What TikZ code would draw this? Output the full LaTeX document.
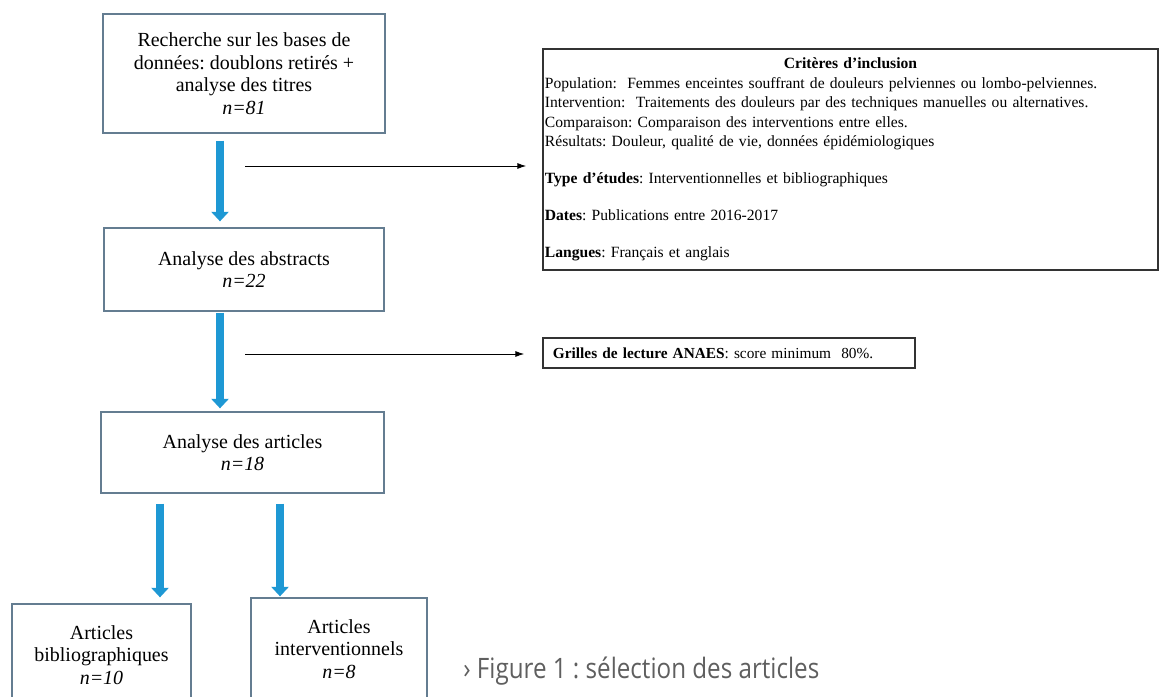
\documentclass[tikz,border=0pt]{standalone}
\usepackage{fontspec}
\setmainfont{Liberation Serif}
\newfontfamily\captionfont[FakeStretch=0.86]{Open Sans}
\usetikzlibrary{arrows.meta,positioning}
\definecolor{flowblue}{RGB}{30,152,212}
\definecolor{stageedge}{RGB}{100,125,145}
\definecolor{captiongray}{RGB}{95,95,95}

\begin{document}
\frenchspacing
\begin{tikzpicture}[x=0.025cm,y=0.025cm,
  stage/.style={draw=stageedge,line width=0.9pt,align=center,font=\fontsize{14.2}{16.1}\selectfont},
  filter/.style={draw=black!80,line width=1.1pt,align=left,inner xsep=0.05cm,font=\fontsize{11.1}{13.9}\selectfont},
  flow/.style={draw=flowblue,line width=0.2cm,-{Triangle[width=0.43cm,length=0.24cm]}},
  exclude/.style={draw=black,line width=0.6pt,-{Latex[length=0.22cm,width=0.15cm]}}]
\tikzstyle{every node}+=[inner sep=0pt]
\useasboundingbox (0,0) rectangle (1160,-697);
\node [stage,minimum width=7.05cm,minimum height=2.975cm] (search) at (244,-73.5) {Recherche sur les bases de\\données: doublons retirés +\\analyse des titres\\\textit{n=81}};
\node [stage,minimum width=7cm,minimum height=2.075cm] (abstracts) at (244,-269.5) {Analyse des abstracts\\\textit{n=22}};
\node [stage,minimum width=7.075cm,minimum height=2.025cm] (articles) at (242.5,-452.5) {Analyse des articles\\\textit{n=18}};
\node [stage,minimum width=4.475cm,minimum height=2.55cm] (biblio) at (101.5,-655) {Articles\\bibliographiques\\\textit{n=10}};
\node [stage,minimum width=4.4cm,minimum height=2.55cm] (interv) at (339,-649) {Articles\\interventionnels\\\textit{n=8}};
\node [filter,text width=15.275cm,minimum height=5.525cm] (criteria) at (850.5,-159.5) {\makebox[\linewidth]{\textbf{Critères d’inclusion}}\\
Population:~ Femmes enceintes souffrant de douleurs pelviennes ou lombo-pelviennes.\\
Intervention:~ Traitements des douleurs par des techniques manuelles ou alternatives.\\
Comparaison: Comparaison des interventions entre elles.\\
Résultats: Douleur, qualité de vie, données épidémiologiques\\[12.4pt]
\textbf{Type d’études}: Interventionnelles et bibliographiques\\[12.4pt]
\textbf{Dates}: Publications entre 2016-2017\\[12.4pt]
\textbf{Langues}: Français et anglais};
\node [filter,font=\fontsize{10.9}{13}\selectfont,inner xsep=0.25cm,text width=8.8cm,minimum height=0.75cm] (grid) at (729,-353) {\textbf{Grilles de lecture ANAES}: score minimum~ 80\%.};
\node [font=\captionfont\fontsize{20}{24}\selectfont,text=captiongray,anchor=base west] (caption) at (463,-678) {› Figure 1 : sélection des articles};
\coordinate (mainline) at (220,0);
\coordinate (leftline) at (160,0);
\coordinate (rightline) at (280,0);
\draw [flow,shorten <=0.175cm,shorten >=0.15cm] (search.south -| mainline) -- (abstracts.north -| mainline);
\draw [flow,shorten <=0.025cm,shorten >=0.075cm] (abstracts.south -| mainline) -- (articles.north -| mainline);
\draw [flow,shorten <=0.25cm,shorten >=0.15cm] (articles.south -| leftline) -- (biblio.north -| leftline);
\draw [flow,shorten <=0.25cm,shorten >=0.025cm] (articles.south -| rightline) -- (interv.north -| rightline);
\coordinate (tap1) at (245,-166);
\coordinate (tap2) at (245,-354);
\draw [exclude,shorten >=0.4cm] (tap1) -- (tap1 -| criteria.west);
\draw [exclude,shorten >=0.45cm] (tap2) -- (tap2 -| grid.west);
\end{tikzpicture}
\end{document}
